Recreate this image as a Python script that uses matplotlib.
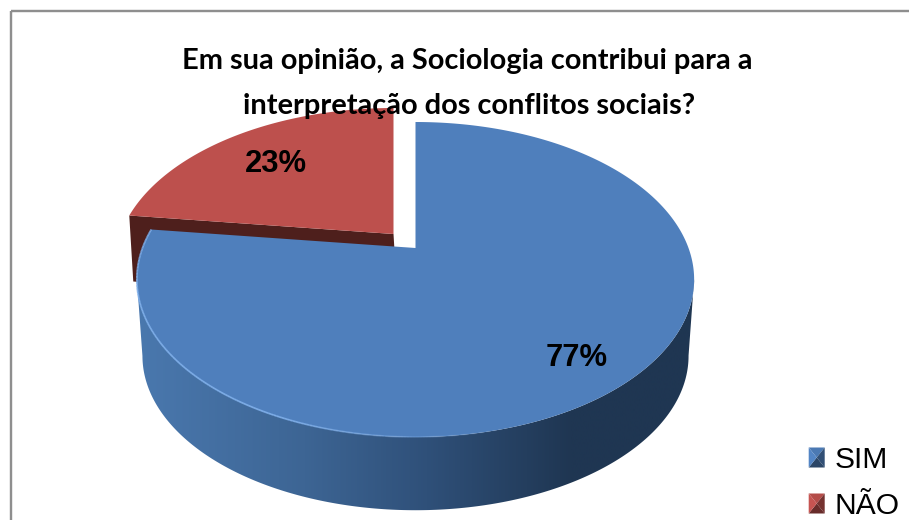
import numpy as np
import matplotlib
matplotlib.use("Agg")
import matplotlib.pyplot as plt
from matplotlib.collections import LineCollection
from matplotlib.colors import LinearSegmentedColormap, to_rgb, to_rgba
from matplotlib.legend_handler import HandlerBase
from matplotlib.patches import Patch, Polygon, Rectangle

# Survey answers
categories = ["SIM", "NÃO"]
values = [77, 23]
title_lines = ["Em sua opinião, a Sociologia contribui para a",
               "interpretação dos conflitos sociais?"]

BLUE, RED = "#4f7fbc", "#bd504d"
RED_CUT = "#4e1f1c"

W, H = 909, 520
fig = plt.figure(figsize=(W / 100, H / 100), dpi=100, facecolor="white")
ax = fig.add_axes([0, 0, 1, 1])
ax.axis("off")

PX = 0.72  # points per pixel at this dpi

# Perspective projection of the pie disc on to the page
HUB = (415.5, 248.0)
A, K, P = 273.0, 151.2, 0.2
DEPTH, SHRINK = 77.0, 0.98


def project(theta_deg, r=1.0, shift=(0.0, 0.0), floor=False):
    """Clockwise angle from 12 o'clock -> page coordinates."""
    t = np.radians(np.asarray(theta_deg, dtype=float))
    u, v = r * np.sin(t), r * np.cos(t)
    w = 1 + P * v
    s = SHRINK if floor else 1.0
    dy = DEPTH if floor else 0.0
    return (HUB[0] + shift[0] + s * A * u / w,
            HUB[1] + shift[1] + dy - s * K * v / w)


def arc(start, end, shift=(0.0, 0.0), floor=False, n=400):
    th = np.linspace(start, end, n)
    x, y = project(th, shift=shift, floor=floor)
    return np.column_stack([x, y])


fractions = np.array(values) / sum(values) * 360
blue_end = fractions[0]
red_end = blue_end + fractions[1]
RED_SHIFT = (-22.0, -14.0)

# Cut face of the pulled-out slice
corner = np.array(project(blue_end, shift=RED_SHIFT))
hub_red = np.array([HUB[0] + RED_SHIFT[0], HUB[1] + RED_SHIFT[1]])
cut_depth = np.array([4.0, 66.0])
ax.add_patch(Polygon([corner, hub_red, hub_red + cut_depth, corner + cut_depth],
                     closed=True, fc=RED_CUT, ec="none", zorder=2))

# Top of the pulled-out slice
red_top = np.vstack([[hub_red], arc(blue_end, red_end, shift=RED_SHIFT)])
ax.add_patch(Polygon(red_top, closed=True, fc=RED, ec="none", zorder=3))

# Outer wall of the large slice, shaded from left to right.
# The visible part runs between the widest points of the rim on either side.
wall_cmap = LinearSegmentedColormap.from_list(
    "wall", [(0.0, "#4a78ae"), (0.30, "#3d6594"), (0.52, "#2f5079"),
             (0.78, "#1f3652"), (1.0, "#1f3652")])
rim_top, rim_low = arc(0, blue_end), arc(0, blue_end, floor=True)
i_r, i_l = rim_top[:, 0].argmax(), rim_top[:, 0].argmin()
j_r, j_l = rim_low[:, 0].argmax(), rim_low[:, 0].argmin()
wall_outline = np.vstack([rim_top[i_r:i_l + 1], rim_low[j_r:j_l + 1][::-1]])
wall_left, wall_right = wall_outline[:, 0].min(), wall_outline[:, 0].max()
wall_img = ax.imshow(np.linspace(0, 1, 512).reshape(1, -1), cmap=wall_cmap,
                     extent=(wall_left, wall_right, 520, 100), aspect="auto",
                     interpolation="bilinear", zorder=4)
wall_clip = Polygon(wall_outline, closed=True, transform=ax.transData, fc="none", ec="none")
ax.add_patch(wall_clip)
wall_img.set_clip_path(wall_clip)

# Top of the large slice
blue_top = np.vstack([[HUB], arc(0, blue_end)])
ax.add_patch(Polygon(blue_top, closed=True, fc=BLUE, ec="none", zorder=5))

# Bevel along the front rim: bright on the lit side, fading towards the shade
rim_angles = np.linspace(120, blue_end, 300)
rx, ry = project(rim_angles)
rim_pts = np.column_stack([rx, ry])
rim_segments = np.stack([rim_pts[:-1], rim_pts[1:]], axis=1)
rim_alpha = np.clip((rim_angles[:-1] - 165) / 45, 0, 0.85)
rim_colors = [to_rgba("#7fb0ec", a) for a in rim_alpha]
ax.add_collection(LineCollection(rim_segments, colors=rim_colors,
                                 linewidths=1.3, zorder=6))

ax.set_xlim(0, W)
ax.set_ylim(H, 0)

# Value labels
ax.text(276, 164, f"{values[1]}%", fontsize=31 * PX, family="Liberation Sans",
        weight="bold", ha="center", va="center", color="black", zorder=8)
ax.text(577, 358, f"{values[0]}%", fontsize=31 * PX, family="Liberation Sans",
        weight="bold", ha="center", va="center", color="black", zorder=8)

# Title
for y, line, xc in zip((69, 114), title_lines, (467, 469)):
    ax.text(xc, y, line, fontsize=29 * PX, family="Lato", weight="bold",
            ha="center", va="baseline", color="black", zorder=9)


class BevelKey(HandlerBase):
    """Legend key with four shaded facets."""

    def create_artists(self, legend, orig_handle, xd, yd, width, height, fontsize, trans):
        base = np.array(to_rgb(orig_handle.get_facecolor()))
        kw, kh = 16 * PX, 20 * PX
        x0 = -xd + (width - kw) / 2
        y0 = -yd + (height - kh) / 2
        c = (x0 + kw / 2, y0 + kh / 2)
        tl, tr = (x0, y0 + kh), (x0 + kw, y0 + kh)
        bl, br = (x0, y0), (x0 + kw, y0)
        facets = [((tl, tr, c), 0.95), ((tr, br, c), 0.62),
                  ((br, bl, c), 0.55), ((bl, tl, c), 1.05)]
        return [Polygon(pts, closed=True, fc=np.clip(base * f, 0, 1), ec="none",
                        transform=trans) for pts, f in facets]


handles = [Patch(facecolor=BLUE), Patch(facecolor=RED)]
ax.legend(handles, categories, handler_map={Patch: BevelKey()},
          loc="lower left", bbox_to_anchor=(808 / W, (H - 520) / H),
          frameon=False, handlelength=0.58, handleheight=0.7,
          handletextpad=0.3, labelspacing=0.6, borderpad=0, borderaxespad=0,
          prop={"family": "Liberation Sans", "size": 30 * PX})

# Chart frame running past the right and lower edges of the page
ax.add_patch(Rectangle((11, 11), 940, 560, fc="none", ec="#8e8e8e", lw=2.4 * PX,
                       zorder=1))

fig.savefig("out.png", dpi=100, facecolor="white")
